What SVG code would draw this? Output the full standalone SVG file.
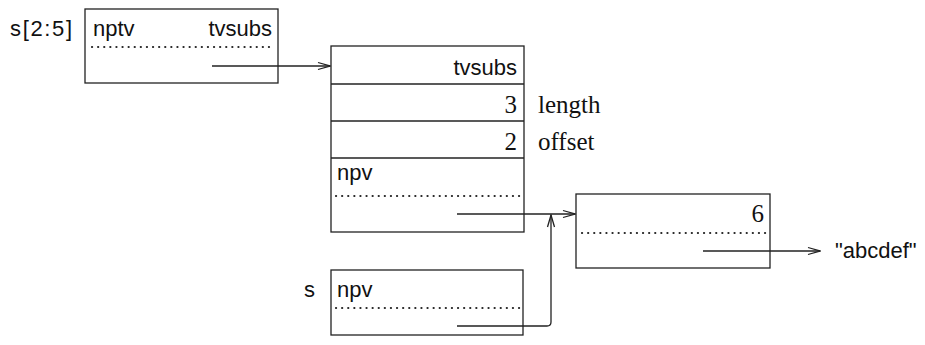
<svg xmlns="http://www.w3.org/2000/svg" width="925" height="345" viewBox="0 0 925 345">
<style>
.box{fill:none;stroke:#222;stroke-width:1.3}
.dot{fill:none;stroke:#222;stroke-width:2.2;stroke-dasharray:0.1 6;stroke-linecap:round}
.sans{font-family:"Liberation Sans",Arial,sans-serif;font-size:22px;fill:#111}
.serif{font-family:"Liberation Serif","Times New Roman",serif;font-size:25px;fill:#111}
.conn{fill:none;stroke:#222;stroke-width:1.3}
</style>
<defs>
<marker id="ah" markerWidth="14" markerHeight="10" refX="13" refY="5" orient="auto" markerUnits="userSpaceOnUse">
<path d="M1,1.5 L13,5 L1,8.5" fill="none" stroke="#222" stroke-width="1.3"/>
</marker>
</defs>
<rect width="925" height="345" fill="#fff"/>
<g id="label-s25"><text class="sans" x="10" y="36" textLength="62" lengthAdjust="spacing">s[2:5]</text></g>
<g id="node-s25">
<rect class="box" x="85" y="9" width="193" height="74"/>
<line class="dot" x1="92" y1="47" x2="274" y2="47"/>
<text class="sans" x="93" y="36">nptv</text>
<text class="sans" x="272" y="36" text-anchor="end">tvsubs</text>
</g>
<g id="node-tvsubs">
<rect class="box" x="331" y="46" width="193" height="186"/>
<line class="box" x1="331" y1="84" x2="524" y2="84"/>
<line class="box" x1="331" y1="121" x2="524" y2="121"/>
<line class="box" x1="331" y1="158" x2="524" y2="158"/>
<line class="dot" x1="336" y1="196" x2="520" y2="196"/>
<text class="sans" x="517" y="75" text-anchor="end">tvsubs</text>
<text class="serif" x="517" y="113" text-anchor="end">3</text>
<text class="serif" x="538" y="113">length</text>
<text class="serif" x="517" y="150" text-anchor="end">2</text>
<text class="serif" x="538" y="150">offset</text>
<text class="sans" x="337" y="180">npv</text>
</g>
<g id="node-v6">
<rect class="box" x="576" y="194" width="194" height="74"/>
<line class="dot" x1="582" y1="233" x2="766" y2="233"/>
<text class="serif" x="764" y="222" text-anchor="end">6</text>
</g>
<g id="label-abcdef"><text class="sans" x="835" y="258">"abcdef"</text></g>
<g id="label-s"><text class="sans" x="304" y="297">s</text></g>
<g id="node-s">
<rect class="box" x="331" y="270" width="192" height="65"/>
<line class="dot" x1="336" y1="308" x2="520" y2="308"/>
<text class="sans" x="337" y="297">npv</text>
</g>
<g id="connectors">
<line class="conn" x1="212" y1="66" x2="330" y2="66" marker-end="url(#ah)"/>
<line class="conn" x1="457" y1="214" x2="575" y2="214" marker-end="url(#ah)"/>
<path class="conn" d="M457,326 H547 Q551,326 551,322 V215" marker-end="url(#ah)"/>
<line class="conn" x1="703" y1="251" x2="820" y2="251" marker-end="url(#ah)"/>
</g>
</svg>
